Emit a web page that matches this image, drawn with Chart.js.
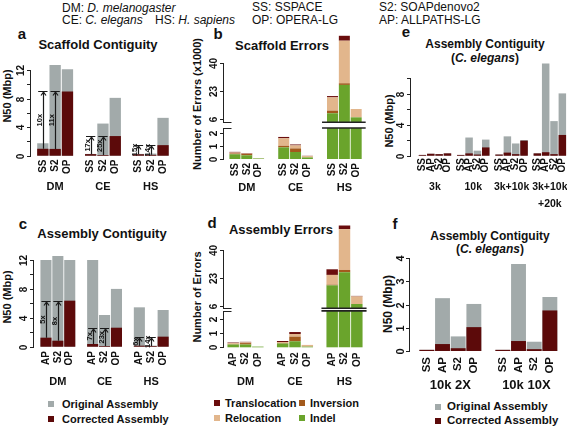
<!DOCTYPE html>
<html>
<head>
<meta charset="utf-8">
<script src="https://cdn.jsdelivr.net/npm/chart.js@4.4.0/dist/chart.umd.min.js"></script>
<style>
  html, body { margin: 0; padding: 0; background: #fff; overflow: hidden; }
  #fig { position: relative; width: 567px; height: 426px; overflow: hidden;
         font-family: "Liberation Sans", Arial, sans-serif; color: #111; }
  #fig canvas { position: absolute; }
  .t { position: absolute; white-space: nowrap; line-height: 1; font-size: 11px; }
  .h { font-size: 12px; }
  .c { transform: translate(-50%, -50%); }
  .l { transform: translateY(-50%); }
  .v { transform: translate(-50%, -50%) rotate(-90deg); }
  .b { font-weight: bold; }
  .ti { font-weight: bold; font-size: 13px; }
  .ts { font-weight: bold; font-size: 12px; }
  .p { font-weight: bold; font-size: 15px; }
  .sq { position: absolute; width: 6px; height: 6px; }
</style>
</head>
<body>
<div id="fig">
  <!-- header -->
  <div class="t l h" style="left:62px;top:8px">DM: <i>D. melanogaster</i></div>
  <div class="t l h" style="left:62px;top:20px">CE: <i>C. elegans</i></div>
  <div class="t l h" style="left:155px;top:20px">HS: <i>H. sapiens</i></div>
  <div class="t l h" style="left:252px;top:7px">SS: SSPACE</div>
  <div class="t l h" style="left:379px;top:7px">S2: SOAPdenovo2</div>
  <div class="t l h" style="left:252px;top:20px">OP: OPERA-LG</div>
  <div class="t l h" style="left:379px;top:20px">AP: ALLPATHS-LG</div>

  <!-- panel letters -->
  <div class="t c p" style="left:22px;top:33px">a</div>
  <div class="t c p" style="left:218px;top:33px">b</div>
  <div class="t c p" style="left:406px;top:31px">e</div>
  <div class="t c p" style="left:23px;top:223px">c</div>
  <div class="t c p" style="left:212px;top:222px">d</div>
  <div class="t c p" style="left:395px;top:223px">f</div>

  <!-- titles -->
  <div class="t c ti" style="left:98px;top:44px">Scaffold Contiguity</div>
  <div class="t c ti" style="left:282px;top:45px">Scaffold Errors</div>
  <div class="t c ts" style="left:485px;top:44px">Assembly Contiguity</div>
  <div class="t c ts" style="left:485px;top:58px">(<i>C. elegans</i>)</div>
  <div class="t c ti" style="left:102px;top:233px">Assembly Contiguity</div>
  <div class="t c ti" style="left:281px;top:229px">Assembly Errors</div>
  <div class="t c ts" style="left:490px;top:236px">Assembly Contiguity</div>
  <div class="t c ts" style="left:490px;top:249px">(<i>C. elegans</i>)</div>

  <!-- axis titles -->
  <div class="t v b" style="left:7px;top:96px">N50 (Mbp)</div>
  <div class="t v b" style="left:197px;top:104px">Number of Errors (x1000)</div>
  <div class="t v b" style="left:389px;top:121px">N50 (Mbp)</div>
  <div class="t v b" style="left:7px;top:297px">N50 (Mbp)</div>
  <div class="t v b" style="left:197px;top:297px">Number of Errors</div>
  <div class="t v ts" style="left:388px;top:304px">N50 (Mbp)</div>

  <!-- legends -->
  <div class="sq" style="left:48px;top:401px;background:#a2aaaa"></div>
  <div class="t l b" style="left:62px;top:404px">Original Assembly</div>
  <div class="sq" style="left:48px;top:416px;background:#5c0a0a"></div>
  <div class="t l b" style="left:62px;top:419px">Corrected Assembly</div>

  <div class="sq" style="left:214px;top:400px;background:#6a0d0d"></div>
  <div class="t l b" style="left:225px;top:403px">Translocation</div>
  <div class="sq" style="left:299px;top:400px;background:#a35a1d"></div>
  <div class="t l b" style="left:310px;top:403px">Inversion</div>
  <div class="sq" style="left:214px;top:415px;background:#e2b68c"></div>
  <div class="t l b" style="left:225px;top:418px">Relocation</div>
  <div class="sq" style="left:299px;top:415px;background:#6aa42c"></div>
  <div class="t l b" style="left:310px;top:418px">Indel</div>

  <div class="sq" style="left:435px;top:404px;background:#a2aaaa"></div>
  <div class="t l b" style="left:447px;top:407px;font-size:11.5px">Original Assembly</div>
  <div class="sq" style="left:435px;top:418px;background:#5c0a0a"></div>
  <div class="t l b" style="left:447px;top:421px;font-size:11.5px">Corrected Assembly</div>

  <canvas id="chartA" width="190" height="155" style="left:0px;top:58px"></canvas>
  <canvas id="chartB" width="190" height="175" style="left:190px;top:30px"></canvas>
  <canvas id="chartE" width="190" height="180" style="left:380px;top:30px"></canvas>
  <canvas id="chartC" width="190" height="150" style="left:0px;top:248px"></canvas>
  <canvas id="chartD" width="190" height="170" style="left:190px;top:222px"></canvas>
  <canvas id="chartF" width="190" height="155" style="left:380px;top:240px"></canvas>
</div>

<script>
// ---- data ----

// a: scaffold contiguity, N50 in Mbp, [method][group]
var aGroups = ["DM", "CE", "HS"];
var aMethods = ["SS", "S2", "OP"];
var aOriginal = [[1.74, 0.25, 0.25], [12.7, 4.5, 0.3], [12.1, 8.1, 5.3]];
var aCorrected = [[0.97, 0.22, 0.2], [0.95, 0.1, 0.12], [9.0, 2.75, 1.48]];
var aFold = [["10x", "17x", "15x"], ["11x", "25x", "14x"]];
var aTicks = [0, 2, 4, 6, 8, 10, 12];
var aTickLabels = ["0", "", "4", "", "8", "", "12"];

// b: scaffold errors (x1000), [method][group]
var errTypes = ["Indel", "Inversion", "Relocation", "Translocation"];
var bMethods = ["SS", "S2", "OP"];
var bIndel = [[0.36, 0.88, 9.5], [0.28, 0.53, 26.8], [0.04, 0.12, 7.0]];
var bInversion = [[0.06, 0.12, 1.6], [0.1, 0.27, 1.0], [0, 0, 0]];
var bRelocation = [[0.07, 0.57, 8.1], [0.03, 0.23, 26.0], [0.02, 0.1, 5.1]];
var bTranslocation = [[0.05, 0.1, 0.8], [0.04, 0.07, 3.0], [0, 0.02, 0]];
var bTicks = [0, 1, 2, 6, 23, 40];

// c: assembly contiguity
var cMethods = ["AP", "S2", "OP"];
var cOriginal = [[12.0, 12.0, 5.45], [12.55, 4.39, 0.15], [12.0, 8.0, 5.08]];
var cCorrected = [[1.25, 0.37, 0.14], [0.83, 0.1, 0.1], [6.37, 2.63, 1.39]];
var cFold = [["5x", "7x", "6x"], ["8x", "23x", "14x"]];

// d: assembly errors
var dMethods = ["AP", "S2", "OP"];
var dIndel = [[0.2, 0.27, 18.5], [0.2, 0.43, 26.4], [0.05, 0.05, 7.2]];
var dInversion = [[0.02, 0.03, 0.4], [0.1, 0.33, 1.4], [0, 0, 0]];
var dRelocation = [[0.08, 0.08, 5.9], [0.05, 0.19, 24.7], [0, 0.12, 4.6]];
var dTranslocation = [[0.04, 0.07, 3.4], [0.04, 0.14, 2.2], [0, 0, 0.3]];

// e: contiguity by library set (C. elegans)
var eGroups = ["3k", "10k", "3k+10k", "3k+10k\n+20k"];
var eMethods = ["SS", "AP", "S2", "OP"];
var eOriginal = [[0.1, 0.1, 0.15, 0.3], [0.25, 2.35, 2.5, 11.9], [0.2, 0.65, 1.58, 4.47], [0.3, 2.08, 2.03, 8.05]];
var eCorrected = [[0.1, 0.1, 0.15, 0.3], [0.25, 0.3, 0.4, 0.45], [0.2, 0.15, 0.2, 0.2], [0.3, 1.07, 1.94, 2.68]];
var eTicks = [0, 2, 4, 6, 8, 10];
var eTickLabels = ["0", "", "4", "", "8", ""];

// f: contiguity by coverage (C. elegans)
var fGroups = ["10k 2X", "10k 10X"];
var fMethods = ["SS", "AP", "S2", "OP"];
var fOriginal = [[0.05, 0.05], [2.28, 3.75], [0.63, 0.4], [2.03, 2.33]];
var fCorrected = [[0.05, 0.05], [0.3, 0.43], [0.12, 0.08], [1.03, 1.75]];
var fTicks = [0, 1, 2, 3, 4];

// ---- styling ----
var FONT = '"Liberation Sans", Arial, sans-serif';
var GRAY = "#a2aaaa";
var DARK = "#5c0a0a";
var ERR_COLORS = ["#6aa42c", "#a35a1d", "#e2b68c", "#6a0d0d"];

// broken y axis for the error panels
function breakScale(lowMax, at6, k) {
  return function (v) { return v <= lowMax ? v : at6 + (v - 6) * k; };
}
var bTf = breakScale(2.5, 3.03, 0.124);
var dTf = breakScale(2.6, 2.95, 0.118);

// draws R-like axes, labels, arrows, axis breaks
function rStyle(cfg) {
  var tf = cfg.tf || function (v) { return v; };
  var catFont = cfg.catFont || 10, groupFont = cfg.groupFont || 11, tickFont = cfg.tickFont || 10;
  return {
    id: "rStyle",
    afterDatasetsDraw: function (chart) {
      var ctx = chart.ctx, ys = chart.scales.y, xs = chart.scales.x;
      var ox = cfg.box[0], oy = cfg.box[1];
      var axX = Math.round(cfg.axisX - ox) + 0.5;
      var ypx = function (v) { return Math.round(ys.getPixelForValue(tf(v))) + 0.5; };
      ctx.save();
      ctx.strokeStyle = "#222";
      ctx.fillStyle = "#111";
      ctx.lineWidth = 1;

      // break band across the last group
      if (cfg.band) {
        var n = cfg.methods.length, gi = cfg.groups.length - 1;
        var first = chart.getDatasetMeta(0).data[gi];
        var last = chart.getDatasetMeta(n - 1).data[gi];
        var xl = first.x - first.width / 2 - 5, xr = last.x + last.width / 2 + 4;
        var yb = ys.getPixelForValue(tf(cfg.band[0])), yt = ys.getPixelForValue(tf(cfg.band[1]));
        ctx.fillStyle = "#fff";
        ctx.fillRect(xl, yt, xr - xl, yb - yt);
        ctx.fillStyle = "#111";
        ctx.lineWidth = 1.6;
        ctx.beginPath();
        ctx.moveTo(xl, yt); ctx.lineTo(xr, yt);
        ctx.moveTo(xl, yb); ctx.lineTo(xr, yb);
        ctx.stroke();
        ctx.lineWidth = 1;
        // marks on the axis
        ctx.beginPath();
        ctx.moveTo(axX - 0.5, ypx(cfg.band[1])); ctx.lineTo(axX + 8, ypx(cfg.band[1]));
        ctx.moveTo(axX - 0.5, ypx(cfg.band[0])); ctx.lineTo(axX + 8, ypx(cfg.band[0]));
        ctx.stroke();
      }

      // axis line pieces
      cfg.segs.forEach(function (s) {
        ctx.beginPath();
        ctx.moveTo(axX, ypx(s[0]) + 0.5);
        ctx.lineTo(axX, ypx(s[1]) - 0.5);
        ctx.stroke();
      });

      // ticks and tick labels
      ctx.font = "bold " + tickFont + "px " + FONT;
      ctx.textAlign = "center";
      ctx.textBaseline = "middle";
      cfg.ticks.forEach(function (t, i) {
        var py = ypx(t);
        ctx.beginPath();
        ctx.moveTo(axX - 3.5, py);
        ctx.lineTo(axX, py);
        ctx.stroke();
        var lab = cfg.tickLabels ? cfg.tickLabels[i] : String(t);
        if (lab) {
          ctx.save();
          ctx.translate(axX - 9, py);
          ctx.rotate(-Math.PI / 2);
          ctx.fillText(lab, 0, 0);
          ctx.restore();
        }
      });

      // arrows showing the fold change
      if (cfg.fold) {
        var target = chart.getDatasetMeta(cfg.methods.length - 1).data;
        cfg.fold.forEach(function (labs, j) {
          chart.getDatasetMeta(j).data.forEach(function (el, i) {
            var x = Math.round(el.x) + 0.5;
            var y0 = el.y, y1 = Math.round(target[i].y) + 0.5;
            ctx.strokeStyle = "#1a1a1a";
            ctx.lineWidth = 1.2;
            ctx.beginPath();
            ctx.moveTo(x, y0); ctx.lineTo(x, y1);
            ctx.moveTo(el.x - el.width / 2 + 1, y1); ctx.lineTo(el.x + el.width / 2 - 1, y1);
            ctx.moveTo(x - 2.5, y1 + 4); ctx.lineTo(x, y1 + 0.5); ctx.lineTo(x + 2.5, y1 + 4);
            ctx.stroke();
            ctx.save();
            ctx.font = "bold 7.5px " + FONT;
            ctx.textAlign = "center";
            ctx.textBaseline = "alphabetic";
            ctx.translate(x - 1.5, (y0 + y1) / 2);
            ctx.rotate(-Math.PI / 2);
            ctx.fillText(labs[i], 0, 0);
            ctx.restore();
          });
        });
      }

      // rotated method labels under each bar
      ctx.fillStyle = "#111";
      ctx.font = "bold " + catFont + "px " + FONT;
      ctx.textAlign = "right";
      ctx.textBaseline = "middle";
      cfg.methods.forEach(function (m, j) {
        chart.getDatasetMeta(j).data.forEach(function (el) {
          ctx.save();
          ctx.translate(el.x, cfg.catY - oy);
          ctx.rotate(-Math.PI / 2);
          ctx.fillText(m, 0, 0);
          ctx.restore();
        });
      });

      // group labels
      ctx.font = "bold " + groupFont + "px " + FONT;
      ctx.textAlign = "center";
      cfg.groups.forEach(function (g, i) {
        g.split("\n").forEach(function (ln, k) {
          ctx.fillText(ln, xs.getPixelForValue(i), cfg.groupY[k] - oy);
        });
      });
      ctx.restore();
    }
  };
}

function options(cfg, yMax) {
  var b = cfg.box, a = cfg.area;
  return {
    responsive: false,
    animation: false,
    devicePixelRatio: 1,
    layout: { padding: { left: a[0] - b[0], top: a[1] - b[1], right: b[0] + b[2] - a[2], bottom: b[1] + b[3] - a[3] } },
    datasets: { bar: { categoryPercentage: cfg.catPct, barPercentage: cfg.barPct, borderWidth: 0 } },
    scales: {
      x: { display: false, stacked: true, offset: true },
      y: { display: false, stacked: false, min: 0, max: yMax }
    },
    plugins: { legend: { display: false }, tooltip: { enabled: false } }
  };
}

function contigChart(id, groups, methods, original, corrected, yMax, cfg) {
  var datasets = [];
  methods.forEach(function (m, j) {
    datasets.push({ label: "Corrected Assembly", data: corrected[j], backgroundColor: DARK, stack: m, clip: false });
  });
  methods.forEach(function (m, j) {
    datasets.push({ label: "Original Assembly", data: original[j], backgroundColor: GRAY, stack: m, clip: false });
  });
  cfg.groups = groups;
  cfg.methods = methods;
  new Chart(document.getElementById(id), {
    type: "bar",
    data: { labels: groups, datasets: datasets },
    options: options(cfg, yMax),
    plugins: [rStyle(cfg)]
  });
}

function errorChart(id, groups, methods, series, tf, cfg) {
  var datasets = [];
  series.forEach(function (vals, k) {
    methods.forEach(function (m, j) {
      var data = groups.map(function (g, i) {
        var below = 0;
        for (var kk = 0; kk < k; kk++) below += series[kk][j][i];
        return [tf(below), tf(below + vals[j][i])];
      });
      datasets.push({ label: errTypes[k], data: data, backgroundColor: ERR_COLORS[k], stack: m, clip: false });
    });
  });
  cfg.groups = groups;
  cfg.methods = methods;
  cfg.tf = tf;
  new Chart(document.getElementById(id), {
    type: "bar",
    data: { labels: groups, datasets: datasets },
    options: options(cfg, tf(40)),
    plugins: [rStyle(cfg)]
  });
}

contigChart("chartA", aGroups, aMethods, aOriginal, aCorrected, 12, {
  box: [0, 58, 190, 155], area: [31.25, 70, 174.65, 155.7], catPct: 0.772, barPct: 0.92,
  axisX: 30, segs: [[0, 12]], ticks: aTicks, tickLabels: aTickLabels,
  fold: aFold, catY: 159.5, groupY: [187]
});

errorChart("chartB", aGroups, bMethods, [bIndel, bInversion, bRelocation, bTranslocation], bTf, {
  box: [190, 30, 190, 175], area: [222.35, 63.3, 368.75, 159], catPct: 0.727, barPct: 0.93,
  axisX: 223.3, segs: [[0, 2.35], [4.0, 40]], ticks: bTicks, band: [2.35, 4.0],
  catY: 163, groupY: [187.5]
});

contigChart("chartE", eGroups, eMethods, eOriginal, eCorrected, 10, {
  box: [380, 30, 190, 180], area: [415.8, 78.3, 569, 155.7], catPct: 0.87, barPct: 0.9,
  axisX: 409.8, segs: [[0, 10]], ticks: eTicks, tickLabels: eTickLabels,
  catY: 158, groupY: [187, 204], groupFont: 10.5
});

contigChart("chartC", aGroups, cMethods, cOriginal, cCorrected, 12, {
  box: [0, 248, 190, 150], area: [34.5, 260, 174.6, 346.7], catPct: 0.764, barPct: 0.93,
  axisX: 32.7, segs: [[0, 12]], ticks: aTicks, tickLabels: aTickLabels,
  fold: cFold, catY: 351, groupY: [381.5]
});

errorChart("chartD", aGroups, dMethods, [dIndel, dInversion, dRelocation, dTranslocation], dTf, {
  box: [190, 222, 190, 170], area: [220.75, 249.8, 369.25, 347.3], catPct: 0.747, barPct: 0.93,
  axisX: 222.5, segs: [[0, 2.6], [4.6, 40]], ticks: bTicks, band: [2.6, 4.6],
  catY: 352.5, groupY: [382]
});

contigChart("chartF", fGroups, fMethods, fOriginal, fCorrected, 4, {
  box: [380, 240, 190, 155], area: [412.35, 258.3, 564.35, 351], catPct: 0.825, barPct: 0.95,
  axisX: 409.3, segs: [[0, 4]], ticks: fTicks,
  catY: 357, groupY: [385.5], catFont: 11.5, groupFont: 13, tickFont: 11
});
</script>
</body>
</html>
